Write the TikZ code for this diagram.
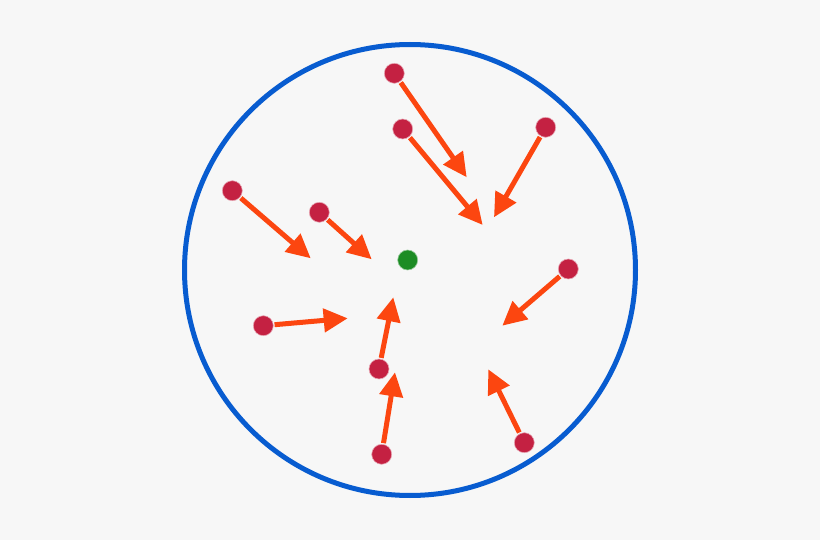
\documentclass[tikz,border=0pt]{standalone}
\usepackage{tikz}
\usetikzlibrary{arrows.meta}
\definecolor{bgrey}{RGB}{247,247,247}
\definecolor{ringblue}{RGB}{8,92,208}
\definecolor{dotred}{RGB}{196,33,66}
\definecolor{pushorange}{RGB}{252,70,16}
\definecolor{centregreen}{RGB}{28,140,36}
\begin{document}
\begin{tikzpicture}[x=1pt, y=-1pt,
            particle/.style={circle, fill=dotred, draw=dotred!40, line width=0.6pt, inner sep=0pt, minimum size=20pt},
            centre/.style={circle, fill=centregreen, draw=centregreen!45, line width=0.6pt, inner sep=0pt, minimum size=20pt},
            push/.style={-{Triangle[length=24pt, width=23pt]}, line width=5pt, pushorange, shorten <=1pt}
        ]
        \fill[bgrey] (0,0) rectangle (820,540);
        \useasboundingbox (0,0) rectangle (820,540);
        \draw[ringblue, line width=5pt] (410,270) circle (225.5);

        \node[centre] (core) at (407.7,260) {};

        \node[particle] (p1) at (394.3,73.3) {};
        \node[particle] (p2) at (402.7,129) {};
        \node[particle] (p3) at (545.7,127.3) {};
        \node[particle] (p4) at (232.3,190.7) {};
        \node[particle] (p5) at (319.3,212.3) {};
        \node[particle] (p6) at (568.3,269) {};
        \node[particle] (p7) at (263.3,325.7) {};
        \node[particle] (p8) at (379,369) {};
        \node[particle] (p9) at (381.7,454.3) {};
        \node[particle] (p10) at (524.3,442.7) {};

        \coordinate (t1) at (466.7,177.3);
        \coordinate (t2) at (482.7,225);
        \coordinate (t3) at (494,217.3);
        \coordinate (t4) at (310.7,258.3);
        \coordinate (t5) at (371.7,259.3);
        \coordinate (t6) at (502.3,325.7);
        \coordinate (t7) at (347.7,318.3);
        \coordinate (t8) at (393.3,297.3);
        \coordinate (t9) at (395,372.3);
        \coordinate (t10) at (488.3,369.3);

        \draw[push] (p1) -- (t1);
        \draw[push] (p2) -- (t2);
        \draw[push] (p3) -- (t3);
        \draw[push] (p4) -- (t4);
        \draw[push] (p5) -- (t5);
        \draw[push] (p6) -- (t6);
        \draw[push] (p7) -- (t7);
        \draw[push] (p8) -- (t8);
        \draw[push] (p9) -- (t9);
        \draw[push] (p10) -- (t10);
        \end{tikzpicture}
\end{document}
